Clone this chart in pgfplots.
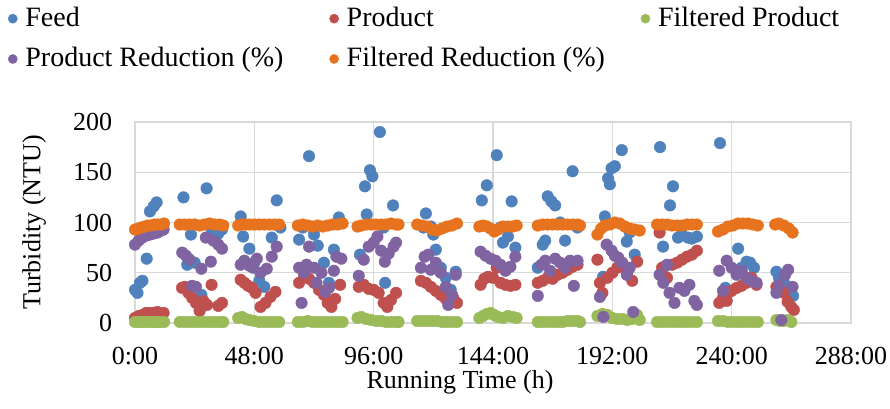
\documentclass[border=0pt]{standalone}
\usepackage{pgfplots}
\pgfplotsset{compat=1.18}
\usepackage{fontspec}
\setmainfont{Liberation Serif}
\definecolor{cfeed}{HTML}{4F81BD}
\definecolor{cprod}{HTML}{C0504D}
\definecolor{cfilt}{HTML}{9BBB59}
\definecolor{cpred}{HTML}{8064A2}
\definecolor{cfred}{HTML}{E8731F}
\begin{document}
\fontsize{26bp}{30bp}\selectfont
\begin{tikzpicture}
\useasboundingbox (-135bp,-86bp) rectangle (755bp,323bp);
\begin{axis}[
  at={(0,0)}, anchor=south west,
  width=716bp, height=201bp, scale only axis,
  xmin=0, xmax=288, ymin=0, ymax=200,
  xtick={0,48,96,144,192,240,288},
  xticklabels={0:00,48:00,96:00,144:00,192:00,240:00,288:00},
  ytick={0,50,100,150,200},
  /pgf/number format/assume math mode=true,
  grid=major,
  grid style={draw=black!15, line width=1.2bp},
  axis line style={draw=black!15, line width=1.2bp},
  major tick length=0pt,
  clip=false,
  tick label style={font=\fontsize{26bp}{30bp}\selectfont},
  label style={font=\fontsize{27.5bp}{32bp}\selectfont},
  yticklabel style={xshift=-14bp},
  xticklabel style={yshift=-15bp},
  every axis y label/.style={at={(axis description cs:-0.141,0.5)},rotate=90,anchor=center},
  every axis x label/.style={at={(axis description cs:0.454,-0.2935)},anchor=center},
  xlabel={Running Time (h)},
  ylabel={Turbidity (NTU)},
  legend columns=3,
  legend style={draw=none, fill=none, inner sep=0pt, at={(-0.1774,1.583)}, anchor=north west,
    font=\fontsize{28bp}{33bp}\selectfont,
    /tikz/every odd column/.style={column sep=6bp},
    /tikz/column 2/.style={column sep=44bp},
    /tikz/column 4/.style={column sep=34bp}, row sep=13bp},
  legend cell align=left,
  legend image code/.code={\draw[#1, mark size=4.6bp] plot coordinates {(0bp,0bp)};},
]
\addplot[only marks, mark=*, mark size=5.8bp, cfeed, mark options={fill=cfeed, draw=cfeed}] table[row sep=\\] {
x y\\
0 33\\ 1 30\\ 2 40\\ 3 42\\ 4.7 64\\ 6 111\\ 7.5 116\\ 8.7 120\\ 10 95\\
19.5 125\\ 21 58\\ 22.5 88\\ 24 60\\ 26.7 28\\ 28.8 134\\ 31 90\\ 33.5 89\\ 35 93\\
42.5 106\\ 43.5 86\\ 46 74\\ 48 60\\ 50 42\\ 52 36\\ 55 85\\ 57 122\\ 58.5 95\\
66 83\\ 67.5 95\\ 70 166\\ 72 88\\ 73.5 77\\ 76 60\\ 78 40\\ 80 73\\ 82 105\\ 83 100\\
90.5 68\\ 92.5 136\\ 93.2 108\\ 94.5 152\\ 95.5 146\\ 98.5 190\\ 100 95\\ 100.6 40\\ 103.8 117\\
116 95\\ 117 109\\ 119 96\\ 120 88\\ 121 73\\ 123 55\\ 125 45\\ 127 33\\ 129 51\\
139.5 122\\ 141.5 137\\ 145.5 167\\ 147 95\\ 148 80\\ 150 86\\ 151.5 121\\ 153 75\\
162 55\\ 164 78\\ 165 82\\ 166 126\\ 167.5 121\\ 169 117\\ 171 100\\ 173 82\\ 176 151\\ 178 95\\
188.3 46\\ 189 106\\ 190.3 144\\ 191 138\\ 191.7 154\\ 193 156\\ 195.8 172\\ 197.8 81\\ 199 90\\ 201 68\\
211.2 175\\ 212.4 76\\ 213 56\\ 215.2 117\\ 216.4 136\\ 218.4 85\\ 220 88\\ 222.4 85\\ 224 84\\ 226 86\\
235.3 179\\ 237.5 35\\ 238 28\\ 242.6 74\\ 244 55\\ 246 61\\ 247.4 60\\ 249 55\\
258 51\\ 259 45\\ 261 40\\ 263 32\\ 264.7 27\\
};
\addlegendentry{Feed}
\addplot[only marks, mark=*, mark size=5.8bp, cprod, mark options={fill=cprod, draw=cprod}] table[row sep=\\] {
x y\\
0 5\\ 1.5 7\\ 3 8\\ 4.5 10\\ 6 10\\ 7.5 10\\ 9 11\\ 10.5 9\\ 11.5 10\\
18.9 35\\ 20 36\\ 21.5 30\\ 23 25\\ 24.5 20\\ 26 12\\ 27.5 22\\ 29 18\\ 30.8 38\\ 33.5 17\\ 35 20\\
42.5 43\\ 44 40\\ 45.5 37\\ 47 35\\ 48.5 30\\ 50.5 16\\ 52.5 20\\ 54.5 26\\ 56.5 31\\
66 40\\ 68 46\\ 70 44\\ 72 40\\ 74 33\\ 76 28\\ 77.5 20\\ 79 16\\ 80.5 24\\ 82.5 38\\
90 36\\ 92 38\\ 94 34\\ 96 33\\ 98 30\\ 100 20\\ 101.5 16\\ 103 23\\ 105 30\\
115 42\\ 117 40\\ 119 36\\ 121 32\\ 123 28\\ 125 24\\ 126.5 22\\ 128 25\\ 129.5 20\\
139 38\\ 140.5 44\\ 142 46\\ 144 45\\ 145.5 55\\ 147 40\\ 149 38\\ 151 37\\ 153 38\\
162 40\\ 164 42\\ 166 45\\ 168 44\\ 170 48\\ 172 50\\ 174 53\\ 176 56\\ 178 58\\
186 63\\ 187 40\\ 188 30\\ 190 45\\ 192 50\\ 194 55\\ 196 60\\ 198 50\\ 200 42\\ 202 61\\
211 90\\ 212 55\\ 214 45\\ 216 58\\ 218 60\\ 220 63\\ 222 66\\ 224 68\\ 226 72\\
235 20\\ 236.5 25\\ 238 22\\ 240 32\\ 242 35\\ 244 37\\ 246 40\\ 248 45\\ 250 38\\
258 36\\ 259.5 33\\ 261 30\\ 262.5 21\\ 264 16\\ 265 13\\
};
\addlegendentry{Product}
\addplot[only marks, mark=*, mark size=5.8bp, cfilt, mark options={fill=cfilt, draw=cfilt}] table[row sep=\\] {
x y\\
0 1\\ 1.3 1\\ 2.6 1\\ 3.9 1\\ 5.2 1\\ 6.5 1\\ 7.8 1\\ 9.1 1\\ 10.4 1\\ 11.7 1\\
18 1\\ 20 1\\ 22 1\\ 24 1\\ 26 1\\ 28 1\\ 30 1\\ 32 1\\ 34 1\\ 35.5 1\\
41.5 5\\ 43 6\\ 44.5 4\\ 46 3\\ 48 2\\ 50 1\\ 52 1\\ 54 1\\ 56 1\\ 58 1\\
65.5 1\\ 67.5 1\\ 69.5 2\\ 71.5 1\\ 73.5 1\\ 75.5 1\\ 77.5 1\\ 79.5 1\\ 81.5 1\\ 83.5 1\\
89.5 5\\ 91 6\\ 93 4\\ 95 3\\ 97 2\\ 99 2\\ 101 1\\ 103 1\\ 105 1\\ 106 1\\
113.5 2\\ 115.5 2\\ 117.5 2\\ 119.5 2\\ 121.5 2\\ 123.5 1\\ 125.5 1\\ 127.5 1\\ 129.5 1\\
138.5 5\\ 140 7\\ 141.5 9\\ 143 10\\ 144.5 8\\ 146 6\\ 148 5\\ 150 7\\ 152 6\\ 153.5 5\\
162 1\\ 164 1\\ 166 1\\ 168 1\\ 170 1\\ 172 1\\ 174 2\\ 176 2\\ 178 2\\ 179 1\\
186 7\\ 188 9\\ 190 8\\ 192 5\\ 194 4\\ 196 4\\ 198 3\\ 200 4\\ 202 8\\ 203 3\\
210 1\\ 212 1\\ 214 1\\ 216 1\\ 218 1\\ 220 1\\ 222 1\\ 224 1\\ 226 1\\
234.5 2\\ 236.5 2\\ 238.5 1\\ 240.5 1\\ 242.5 1\\ 244.5 1\\ 246.5 1\\ 248.5 1\\ 250.5 1\\
258 3\\ 259.5 2\\ 261 2\\ 262.5 3\\ 264 1\\
};
\addlegendentry{Filtered Product}
\addplot[only marks, mark=*, mark size=5.8bp, cpred, mark options={fill=cpred, draw=cpred}] table[row sep=\\] {
x y\\
0 78\\ 1.5 82\\ 3 85\\ 4.5 87\\ 6 88\\ 7.5 89\\ 9 90\\ 10.5 92\\ 11.5 93\\
19 70\\ 20.5 67\\ 22 63\\ 23 37\\ 24.5 36\\ 26.7 54\\ 28.5 85\\ 30.5 61\\ 31.5 82\\ 33.5 78\\ 35 74\\
42.5 58\\ 44 62\\ 46 57\\ 47.5 55\\ 49 64\\ 50.5 50\\ 53 54\\ 55 66\\ 57 76\\
66 55\\ 67 20\\ 68 50\\ 69 58\\ 70 76\\ 72 55\\ 73 40\\ 75 50\\ 76.5 31\\ 78 35\\ 80 52\\ 81 66\\ 83 64\\
90 47\\ 92 63\\ 94 76\\ 96 80\\ 97.5 86\\ 99 72\\ 100.5 61\\ 102 69\\ 104 76\\ 105 80\\
115 55\\ 116.5 66\\ 118 68\\ 119 53\\ 121 60\\ 123 50\\ 125 36\\ 126 18\\ 127.5 28\\ 129 48\\
139 71\\ 141 67\\ 143 64\\ 145 62\\ 147 58\\ 149 52\\ 151 56\\ 153 66\\
162 27\\ 163.5 58\\ 165 62\\ 167 52\\ 169 64\\ 171 60\\ 173 55\\ 175 62\\ 176.5 37\\ 178 62\\
187 26\\ 188.4 6\\ 189.7 78\\ 191.7 72\\ 193 67\\ 194.4 65\\ 195.8 60\\ 197.8 48\\ 199 55\\ 200.4 11\\
211 48\\ 212.5 40\\ 214 58\\ 215 30\\ 217 20\\ 219 35\\ 221 32\\ 223 38\\ 225 22\\ 226 18\\
235 52\\ 236.5 32\\ 238 62\\ 240 55\\ 242 48\\ 244 52\\ 246 45\\ 248 42\\ 250 40\\
258 30\\ 259 38\\ 260 3\\ 261.5 48\\ 262.7 53\\ 264.5 36\\
};
\addlegendentry{Product Reduction (\%)}
\addplot[only marks, mark=*, mark size=5.8bp, cfred, mark options={fill=cfred, draw=cfred}] table[row sep=\\] {
x y\\
0 93\\ 1.3 94\\ 2.6 95\\ 3.9 96\\ 5.2 97\\ 6.5 97\\ 7.8 98\\ 9.1 98\\ 10.4 98\\ 11.7 99\\
18 98\\ 20 98\\ 22 98\\ 24 98\\ 26 97\\ 28 98\\ 30 99\\ 32 98\\ 34 98\\ 35.5 97\\
41.5 97\\ 43 98\\ 44.5 98\\ 46 98\\ 48 98\\ 50 98\\ 52 98\\ 54 98\\ 56 98\\ 58 98\\
65.5 97\\ 67.5 98\\ 69.5 97\\ 71.5 96\\ 73.5 97\\ 75.5 96\\ 77.5 97\\ 79.5 98\\ 81.5 98\\ 83.5 99\\
89.5 96\\ 91 97\\ 93 98\\ 95 98\\ 97 98\\ 99 98\\ 101 98\\ 103 99\\ 105 98\\ 106 98\\
113.5 98\\ 115.5 97\\ 117.5 96\\ 119.5 93\\ 121.5 92\\ 123.5 94\\ 125.5 96\\ 127.5 97\\ 129.5 99\\
138.5 96\\ 140 97\\ 141.5 96\\ 143 94\\ 144.5 91\\ 146 93\\ 148 96\\ 150 96\\ 152 96\\ 153.5 97\\
162 97\\ 164 98\\ 166 98\\ 168 98\\ 170 98\\ 172 98\\ 174 98\\ 176 98\\ 178 98\\ 179 97\\
186 88\\ 187.5 94\\ 189 97\\ 191 98\\ 193 100\\ 195 99\\ 197 96\\ 199 94\\ 201 93\\ 203 92\\
210 98\\ 212 98\\ 214 98\\ 216 97\\ 218 97\\ 220 97\\ 222 98\\ 224 98\\ 226 98\\
234.5 91\\ 236.5 93\\ 238.5 96\\ 240.5 97\\ 242.5 99\\ 244.5 99\\ 246.5 99\\ 248.5 98\\ 250.5 97\\
257.5 98\\ 259 99\\ 261 97\\ 263 94\\ 264.5 90\\
};
\addlegendentry{Filtered Reduction (\%)}
\end{axis}
\end{tikzpicture}
\end{document}
